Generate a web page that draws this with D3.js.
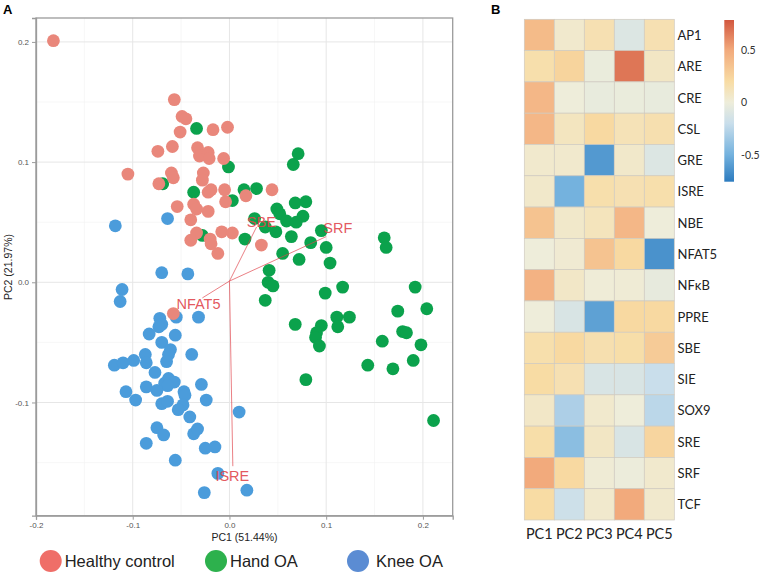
<!DOCTYPE html>
<html>
<head>
<meta charset="utf-8">
<script src="https://cdn.jsdelivr.net/npm/d3@7"></script>
<style>
  html, body { margin: 0; padding: 0; background: #fff; }
  svg { display: block; }
</style>
</head>
<body>
<svg id="chart" width="760" height="574"></svg>
<script>
// ---------------- DATA ----------------
const groups = ["Healthy control", "Hand OA", "Knee OA"];

const healthyPoints = [
  [-0.182,0.201],[-0.057,0.152],[-0.049,0.138],[-0.045,0.136],[-0.051,0.125],[-0.017,0.127],
  [-0.002,0.129],[-0.074,0.109],[-0.059,0.113],[-0.033,0.112],[-0.031,0.105],[-0.022,0.108],
  [-0.021,0.103],[-0.006,0.103],[-0.060,0.091],[-0.058,0.087],[-0.073,0.082],[-0.027,0.091],
  [-0.028,0.085],[-0.019,0.077],[-0.022,0.075],[-0.005,0.077],[0.017,0.072],[0.044,0.077],
  [-0.054,0.063],[-0.037,0.065],[-0.034,0.061],[-0.022,0.059],[-0.004,0.067],[-0.040,0.052],
  [-0.034,0.041],[-0.040,0.035],[-0.020,0.036],[-0.019,0.032],[-0.008,0.042],[0.003,0.041],
  [0.033,0.031],[-0.012,0.024],[-0.105,0.090],[-0.058,-0.026]
];

const handPoints = [
  [-0.034,0.128],[-0.001,0.096],[0.071,0.107],[0.066,0.098],[-0.069,0.082],[-0.037,0.075],
  [0.003,0.068],[0.015,0.077],[0.028,0.078],[0.068,0.066],[0.079,0.067],[0.049,0.061],
  [0.052,0.057],[0.076,0.055],[0.059,0.051],[0.069,0.050],[0.026,0.053],[0.037,0.046],
  [0.048,0.042],[0.064,0.038],[0.095,0.043],[-0.028,0.039],[0.016,0.036],[0.084,0.033],
  [0.100,0.029],[0.055,0.024],[0.072,0.019],[0.041,0.010],[0.040,0.000],[0.045,-0.003],
  [0.037,-0.015],[0.104,0.016],[0.160,0.037],[0.162,0.029],[0.117,-0.004],[0.099,-0.009],
  [0.192,-0.004],[0.174,-0.024],[0.204,-0.022],[0.068,-0.035],[0.111,-0.029],[0.124,-0.029],
  [0.112,-0.037],[0.095,-0.036],[0.090,-0.042],[0.089,-0.046],[0.093,-0.053],[0.158,-0.049],
  [0.179,-0.041],[0.183,-0.042],[0.198,-0.052],[0.143,-0.069],[0.169,-0.072],[0.190,-0.065],
  [0.079,-0.081],[0.211,-0.115]
];

const kneePoints = [
  [-0.118,0.047],[-0.064,0.053],[-0.070,0.008],[-0.043,0.007],[-0.111,-0.006],[-0.113,-0.016],
  [-0.055,-0.029],[-0.032,-0.029],[-0.072,-0.030],[-0.070,-0.035],[-0.073,-0.037],[-0.083,-0.043],
  [-0.056,-0.044],[-0.070,-0.050],[-0.061,-0.056],[-0.063,-0.060],[-0.065,-0.066],[-0.087,-0.060],
  [-0.086,-0.067],[-0.039,-0.060],[-0.119,-0.069],[-0.110,-0.067],[-0.099,-0.065],[-0.077,-0.075],
  [-0.063,-0.080],[-0.057,-0.083],[-0.067,-0.084],[-0.064,-0.086],[-0.086,-0.087],[-0.075,-0.090],
  [-0.107,-0.091],[-0.097,-0.098],[-0.047,-0.091],[-0.046,-0.094],[-0.029,-0.085],[-0.070,-0.101],
  [-0.064,-0.099],[-0.048,-0.102],[-0.053,-0.106],[-0.024,-0.098],[-0.041,-0.112],[0.010,-0.108],
  [-0.075,-0.121],[-0.068,-0.127],[-0.037,-0.126],[-0.033,-0.122],[-0.086,-0.134],[-0.025,-0.138],
  [-0.015,-0.137],[-0.056,-0.148],[-0.012,-0.159],[-0.026,-0.175],[0.018,-0.173]
];

const loadingNames = ["SBE", "SRF", "NFAT5", "ISRE"];
const loadingEnds = [[0.028,0.046],[0.100,0.038],[-0.028,-0.013],[0.0035,-0.153]];
const loadingLabelAt = [[0.033,0.050],[0.112,0.045],[-0.032,-0.018],[0.003,-0.161]];

const xTicks = [-0.2, -0.1, 0.0, 0.1, 0.2];
const yTicks = [-0.1, 0.0, 0.1, 0.2];
const xMinor = [-0.15, -0.05, 0.05, 0.15];
const yMinor = [-0.15, -0.05, 0.05, 0.15];

const heatRows = ["AP1","ARE","CRE","CSL","GRE","ISRE","NBE","NFAT5","NFκB","PPRE","SBE","SIE","SOX9","SRE","SRF","TCF"];
const heatCols = ["PC1","PC2","PC3","PC4","PC5"];
const heatValues = [
  [0.40, 0.05, 0.15,-0.10, 0.15],
  [0.17, 0.25,-0.02, 0.68, 0.08],
  [0.42, 0.00,-0.03,-0.02,-0.03],
  [0.42, 0.10, 0.22, 0.13, 0.16],
  [0.05, 0.05,-0.62, 0.06,-0.10],
  [0.06,-0.50, 0.17, 0.15, 0.17],
  [0.35, 0.06, 0.11, 0.42, 0.00],
  [0.00, 0.03, 0.35, 0.22,-0.65],
  [0.45, 0.07, 0.01, 0.02,-0.04],
  [0.00,-0.12,-0.58, 0.22, 0.22],
  [0.17, 0.22, 0.16, 0.18, 0.30],
  [0.20, 0.15,-0.12,-0.12,-0.20],
  [0.07,-0.30, 0.05, 0.00,-0.25],
  [0.18,-0.42, 0.08,-0.12, 0.24],
  [0.50, 0.22, 0.02,-0.01, 0.05],
  [0.20,-0.18, 0.05, 0.50, 0.05]
];
const colorbarTicks = [0.5, 0, -0.5];
const colorStops = [-0.76, -0.5, -0.2, 0, 0.2, 0.5, 0.79];
const colorStopValues = ["#2C7BBF", "#74B2DE", "#C9DEEB", "#EEEDDA", "#F8DCA4", "#F2AA7C", "#D2573F"];

// ---------------- DRAW ----------------
const svg = d3.select("#chart");
const pointColors = ["#E9877B", "#0BA24C", "#4B9CDB"];
const legendColors = ["#EF6E68", "#2DB14D", "#5B8CD3"];
const loadCol = "#E0434A";

const x = d3.scaleLinear().domain([-0.2, 0.2308]).range([36, 452.7]);
const y = d3.scaleLinear().domain([-0.1942, 0.2199]).range([515.7, 18]);

const plot = svg.append("g");
plot.selectAll(".xmin").data(xMinor).join("line")
  .attr("x1", d => x(d)).attr("x2", d => x(d)).attr("y1", 18).attr("y2", 515.7)
  .attr("stroke", "#f2f2f2").attr("stroke-width", 0.6);
plot.selectAll(".ymin").data(yMinor).join("line")
  .attr("y1", d => y(d)).attr("y2", d => y(d)).attr("x1", 36).attr("x2", 452.7)
  .attr("stroke", "#f2f2f2").attr("stroke-width", 0.6);
plot.selectAll(".xmaj").data(xTicks).join("line")
  .attr("x1", d => x(d)).attr("x2", d => x(d)).attr("y1", 18).attr("y2", 515.7)
  .attr("stroke", "#e6e6e6").attr("stroke-width", 1);
plot.selectAll(".ymaj").data(yTicks).join("line")
  .attr("y1", d => y(d)).attr("y2", d => y(d)).attr("x1", 36).attr("x2", 452.7)
  .attr("stroke", "#e6e6e6").attr("stroke-width", 1);

const layers = [[kneePoints, 2], [handPoints, 1], [healthyPoints, 0]];
layers.forEach(([pts, gi]) => {
  plot.append("g").selectAll("circle").data(pts).join("circle")
    .attr("cx", d => x(d[0])).attr("cy", d => y(d[1])).attr("r", 6.4)
    .attr("fill", pointColors[gi]);
});

plot.append("g").selectAll("line").data(loadingEnds).join("line")
  .attr("x1", x(0)).attr("y1", y(0.001))
  .attr("x2", d => x(d[0])).attr("y2", d => y(d[1]))
  .attr("stroke", loadCol).attr("stroke-width", 0.8).attr("stroke-opacity", 0.85);
plot.append("g").selectAll("text").data(loadingNames).join("text")
  .attr("x", (d, i) => x(loadingLabelAt[i][0])).attr("y", (d, i) => y(loadingLabelAt[i][1]))
  .attr("text-anchor", "middle").attr("dominant-baseline", "central")
  .attr("font-family", "Liberation Sans, Arial, sans-serif").attr("font-size", 14.5)
  .attr("fill", loadCol).attr("fill-opacity", 0.9).text(d => d);

plot.append("rect").attr("x", 36).attr("y", 18).attr("width", 452.7 - 36).attr("height", 515.7 - 18)
  .attr("fill", "none").attr("stroke", "#9b9b9b").attr("stroke-width", 1.3);

const xAxis = svg.append("g").attr("transform", "translate(0,515.7)")
  .call(d3.axisBottom(x).tickValues(xTicks).tickSize(4).tickPadding(3));
const yAxis = svg.append("g").attr("transform", "translate(36,0)")
  .call(d3.axisLeft(y).tickValues(yTicks).tickSize(4).tickPadding(3));
[xAxis, yAxis].forEach(a => {
  a.select(".domain").attr("stroke", "#9b9b9b").attr("stroke-width", 1.3);
  a.selectAll(".tick line").attr("stroke", "#9b9b9b");
  a.selectAll(".tick text").attr("fill", "#555").attr("font-size", 8)
    .attr("font-family", "Liberation Sans, Arial, sans-serif")
    .text(d => d.toFixed(1));
});

svg.append("text").attr("x", 244.5).attr("y", 541).attr("text-anchor", "middle")
  .attr("font-family", "Liberation Sans, Arial, sans-serif").attr("font-size", 10.5).attr("fill", "#222")
  .text("PC1 (51.44%)");
svg.append("text").attr("transform", "translate(12,267) rotate(-90)").attr("text-anchor", "middle")
  .attr("font-family", "Liberation Sans, Arial, sans-serif").attr("font-size", 10.5).attr("fill", "#222")
  .text("PC2 (21.97%)");

const legendX = [50.7, 216, 358];
const lg = svg.append("g").selectAll("g").data(groups).join("g")
  .attr("transform", (d, i) => `translate(${legendX[i]},561)`);
lg.append("circle").attr("r", 11).attr("fill", (d, i) => legendColors[i]);
lg.append("text").attr("x", (d, i) => i === 2 ? 18 : 14).attr("y", 0).attr("dominant-baseline", "central")
  .attr("font-family", "Liberation Sans, Arial, sans-serif").attr("font-size", 16.5).attr("fill", "#222")
  .text(d => d);

svg.append("text").attr("x", 3).attr("y", 14).attr("font-family", "Liberation Sans, Arial, sans-serif")
  .attr("font-weight", "bold").attr("font-size", 13).text("A");
svg.append("text").attr("x", 491).attr("y", 14).attr("font-family", "Liberation Sans, Arial, sans-serif")
  .attr("font-weight", "bold").attr("font-size", 13).text("B");

// ---------------- HEATMAP ----------------
const color = d3.scaleLinear().domain(colorStops).range(colorStopValues).interpolate(d3.interpolateRgb).clamp(true);
const hx = d3.scaleBand().domain(heatCols).range([524.3, 674.3]);
const hy = d3.scaleBand().domain(heatRows).range([19.3, 520]);
const cells = [];
heatValues.forEach((row, r) => row.forEach((v, c) => cells.push({ r: heatRows[r], c: heatCols[c], v })));
svg.append("g").selectAll("rect").data(cells).join("rect")
  .attr("x", d => hx(d.c)).attr("y", d => hy(d.r))
  .attr("width", hx.bandwidth()).attr("height", hy.bandwidth())
  .attr("fill", d => color(d.v)).attr("stroke", "#cfcac0").attr("stroke-width", 0.7);

svg.append("g").selectAll("text").data(heatRows).join("text")
  .attr("x", 677.5).attr("y", d => hy(d) + hy.bandwidth() / 2).attr("dominant-baseline", "central")
  .attr("font-family", "Lato, Open Sans, sans-serif").attr("font-size", 13).attr("fill", "#222")
  .text(d => d);
svg.append("g").selectAll("text").data(heatCols).join("text")
  .attr("x", d => hx(d) + hx.bandwidth() / 2).attr("y", 533).attr("text-anchor", "middle")
  .attr("dominant-baseline", "central")
  .attr("font-family", "Lato, Open Sans, sans-serif").attr("font-size", 14.5).attr("fill", "#222")
  .text(d => d);

const cb = d3.scaleLinear().domain([-0.76, 0.79]).range([181.7, 20]);
const defs = svg.append("defs");
const grad = defs.append("linearGradient").attr("id", "cbgrad")
  .attr("x1", 0).attr("x2", 0).attr("y1", 1).attr("y2", 0);
grad.selectAll("stop").data(colorStops).join("stop")
  .attr("offset", d => (d - (-0.76)) / (0.79 - (-0.76)))
  .attr("stop-color", (d, i) => colorStopValues[i]);
svg.append("rect").attr("x", 724.3).attr("y", 20).attr("width", 9.7).attr("height", 161.7)
  .attr("fill", "url(#cbgrad)");
svg.append("g").selectAll("text").data(colorbarTicks).join("text")
  .attr("x", 741).attr("y", d => cb(d)).attr("dominant-baseline", "central")
  .attr("font-family", "Lato, Open Sans, sans-serif").attr("font-size", 10.5).attr("fill", "#333")
  .text(d => d === 0 ? "0" : String(d));
</script>
</body>
</html>
